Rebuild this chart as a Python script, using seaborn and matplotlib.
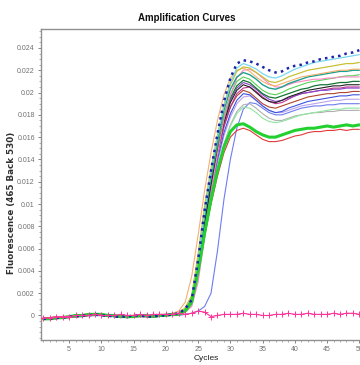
import matplotlib
matplotlib.use("Agg")
import matplotlib.pyplot as plt
import seaborn as sns
import numpy as np
import pandas as pd
from matplotlib.ticker import MultipleLocator

# Fluorescence values in units of 1e-4, cycles 1..50
cycles = list(range(1, 51))

navy_dotted = [-3,-3,-2,-2,-1,-1,0,0,1,0,0,-1,-1,-1,0,0,-1,-1,0,0,1,
               2,6,14,50,94,130,163,192,213,226,229,228,226,223,220,218,219,222,224,225,227,228,230,231,232,233,235,236,238]
cyan = [-2,-3,-3,-2,-2,-1,-1,0,0,1,0,0,-1,-1,-1,0,0,-1,0,1,1,
        1,5,13,48,92,128,160,189,209,222,226,224,221,217,214,213,215,218,221,223,225,227,228,229,230,231,232,233,234]
olive = [-3,-2,-2,-1,-1,0,0,1,1,0,0,0,-1,0,0,-1,-1,0,0,1,1,
         2,7,18,55,98,132,162,188,207,219,223,222,218,214,210,209,211,214,216,218,220,221,222,223,224,225,226,226,227]
orange = [-2,-2,-1,-1,-1,0,0,0,1,1,0,0,0,-1,0,0,0,0,1,1,2,
          4,12,35,72,112,146,175,198,213,220,222,219,214,210,207,206,208,210,212,214,215,216,217,218,219,220,220,221,221]
teal = [-3,-3,-2,-1,-1,-1,0,1,1,1,0,-1,-1,-2,-1,0,-1,-1,0,0,1,
        1,5,14,48,90,126,157,184,203,214,218,216,212,207,204,203,205,208,210,212,214,215,216,217,218,219,219,220,220]
pink = [-2,-3,-2,-2,-1,-1,0,0,0,1,0,0,-1,-1,0,0,0,-1,0,0,0,
        0,3,8,30,70,110,145,176,198,213,220,221,218,213,208,205,205,207,209,210,211,212,212,213,213,214,214,214,214]
light_green = [-3,-2,-2,-2,-1,0,0,1,2,1,0,0,-1,-1,0,0,-1,0,0,1,1,
               2,6,16,50,90,124,154,180,198,210,214,212,207,202,199,198,200,203,205,207,209,210,211,212,213,214,215,215,216]
dark_green = [-3,-3,-2,-1,-1,-1,0,0,1,0,0,-1,-1,-1,-1,0,0,-1,0,0,1,
              1,5,15,48,88,122,152,177,195,206,211,209,204,199,196,195,197,199,201,203,204,206,207,207,208,209,209,210,210]
black = [-3,-2,-2,-2,-1,-1,0,0,0,0,0,-1,-1,-1,0,0,-1,-1,-1,0,1,
         1,4,12,44,84,118,148,173,191,202,207,205,200,195,192,191,193,196,198,200,202,203,204,205,206,206,207,207,207]
purple = [-3,-3,-3,-2,-1,-1,-1,0,0,0,0,-1,-2,-1,-1,0,-1,-1,0,0,1,
          1,4,12,42,82,117,148,174,193,204,209,207,203,198,194,192,193,195,197,199,200,201,202,202,203,203,204,204,204]
magenta = [-2,-3,-2,-2,-2,-1,0,0,1,0,-1,-1,-1,-1,0,0,0,-1,0,1,1,
           1,4,11,40,80,114,144,169,187,199,204,205,201,196,192,190,191,194,197,199,200,201,202,203,204,204,205,205,205]
brown = [-3,-3,-2,-2,-1,-1,0,0,1,1,0,0,-1,-1,-1,-1,-1,0,0,0,1,
         1,5,14,46,85,118,146,170,187,197,202,200,195,190,187,186,188,190,192,194,196,197,198,199,199,200,200,201,201]
blue = [-3,-3,-2,-1,-1,-1,0,0,0,0,0,-1,-1,-2,-1,-1,-1,-1,0,0,1,
        1,4,12,42,80,112,140,164,181,193,199,198,193,188,184,182,183,186,188,190,192,193,194,195,196,197,197,198,198]
lavender = [-2,-2,-2,-1,-1,0,0,0,1,0,0,0,-1,-1,-1,0,0,-1,0,0,0,
            1,4,11,38,76,108,137,161,178,190,196,197,193,188,184,182,182,184,186,188,189,190,191,192,193,193,194,194,194]
late_blue = [-3,-3,-2,-2,-1,-1,-1,0,0,0,0,-1,-1,-1,-1,-1,-1,-1,0,0,0,
             0,1,2,4,8,20,58,104,140,168,185,191,190,186,182,180,180,182,184,186,187,188,188,189,189,190,190,190,190]
gray = [-2,-3,-2,-2,-1,-1,0,0,0,1,0,0,0,-1,0,0,0,-1,0,0,1,
        1,3,9,34,70,102,130,154,171,183,189,190,186,181,177,175,175,177,179,180,181,182,182,183,183,184,184,184,184]
pale_green = [-3,-2,-2,-1,-1,-1,0,0,1,1,1,0,-1,-1,0,0,-1,-1,0,0,1,
              1,3,10,36,72,103,130,153,170,181,187,186,182,177,174,173,174,176,178,180,181,182,183,184,185,185,186,186,186]
green_thick = [-3,-3,-2,-2,-1,0,0,1,1,1,0,0,-1,-1,-1,0,0,-1,0,0,1,
               1,4,12,40,74,104,130,151,165,171,172,169,165,162,160,160,162,164,166,167,168,168,169,170,169,170,171,170,171]
red = [-3,-3,-3,-2,-2,-1,-1,0,0,0,0,-1,-1,-1,-1,0,-1,-1,0,0,1,
       1,4,11,38,71,100,125,146,160,166,168,166,162,158,156,156,157,159,161,162,164,165,165,166,166,167,166,167,167]
neg_control = [-2,-2,-1,-1,-1,0,0,0,1,0,0,0,1,0,0,1,0,1,1,1,1,
               2,1,2,4,3,-1,0,1,1,1,2,1,1,0,0,1,1,2,1,1,2,1,1,1,2,1,2,2,1]

series = [
    ("late_blue", late_blue, "#6f7cf0", "-", 0.8),
    ("gray", gray, "#b0b0b0", "-", 0.8),
    ("pale_green", pale_green, "#8fe6a0", "-", 0.8),
    ("lavender", lavender, "#bba4ea", "-", 0.8),
    ("blue", blue, "#3b55e0", "-", 0.8),
    ("brown", brown, "#b04430", "-", 0.8),
    ("magenta", magenta, "#c23494", "-", 0.8),
    ("purple", purple, "#8a44c8", "-", 0.8),
    ("black", black, "#202020", "-", 0.8),
    ("dark_green", dark_green, "#137535", "-", 0.9),
    ("light_green", light_green, "#55d055", "-", 0.8),
    ("pink", pink, "#ff86c4", "-", 0.8),
    ("teal", teal, "#1fa08f", "-", 1.0),
    ("orange", orange, "#f5b070", "-", 0.8),
    ("olive", olive, "#c8c035", "-", 0.9),
    ("cyan", cyan, "#78d8f0", "-", 0.9),
    ("red", red, "#e03a3a", "-", 0.8),
    ("green_thick", green_thick, "#22d030", "-", 2.2),
    ("navy_dotted", navy_dotted, "#1c24a8", ":", 1.8),
]

sns.set_theme(style="white")
plt.rcParams['font.family'] = ['Liberation Sans', 'DejaVu Sans']

fig = plt.figure(figsize=(3.6, 3.65), dpi=100)
ax = fig.add_axes([0.114, 0.0685, 0.92, 0.852])

for name, vals, col, ls, lw in series:
    df = pd.DataFrame({"Cycle": cycles, "F": np.array(vals) * 1e-4})
    sns.lineplot(data=df, x="Cycle", y="F", ax=ax, color=col, linestyle=ls,
                 linewidth=lw, errorbar=None)

dfn = pd.DataFrame({"Cycle": cycles, "F": np.array(neg_control) * 1e-4})
sns.lineplot(data=dfn, x="Cycle", y="F", ax=ax, color="#ff3399", linewidth=0.8,
             linestyle="-", marker="+", markersize=5, markeredgewidth=0.7,
             markeredgecolor="#ff3399", errorbar=None, zorder=5)

ax.set_xlim(0.64, 52.0)
ax.set_ylim(-0.0022, 0.0257)
ax.xaxis.set_minor_locator(MultipleLocator(1))
ax.yaxis.set_minor_locator(MultipleLocator(0.0005))
ax.set_xticks([5, 10, 15, 20, 25, 30, 35, 40, 45, 50])
ax.set_yticks([0, 0.002, 0.004, 0.006, 0.008, 0.01, 0.012, 0.014, 0.016, 0.018, 0.02, 0.022, 0.024])
ax.set_yticklabels(["0", "0.002", "0.004", "0.006", "0.008", "0.01", "0.012", "0.014",
                    "0.016", "0.018", "0.02", "0.022", "0.024"])
ax.tick_params(axis="both", which="major", labelsize=5, colors="#707070",
               length=2.5, width=0.6, direction="out", left=True, bottom=True, pad=2)
ax.tick_params(axis="both", which="minor", length=1.2, width=0.5, colors="#909090",
               direction="out", left=True, bottom=True)
for s in ax.spines.values():
    s.set_color("#909090")
    s.set_linewidth(1.0)

ax.set_xlabel("Cycles", fontsize=6, color="#202020", labelpad=1)
ax.set_ylabel("Fluorescence (465 Back 530)", fontsize=6.3, fontweight="bold",
              color="#303030", family=["DejaVu Sans"])
ax.yaxis.set_label_coords(-0.075, 0.44)
fig.text(0.52, 0.95, "Amplification Curves", ha="center", va="center",
         fontsize=7, fontweight="bold", color="#111111")

fig.savefig("out.png", dpi=100)
